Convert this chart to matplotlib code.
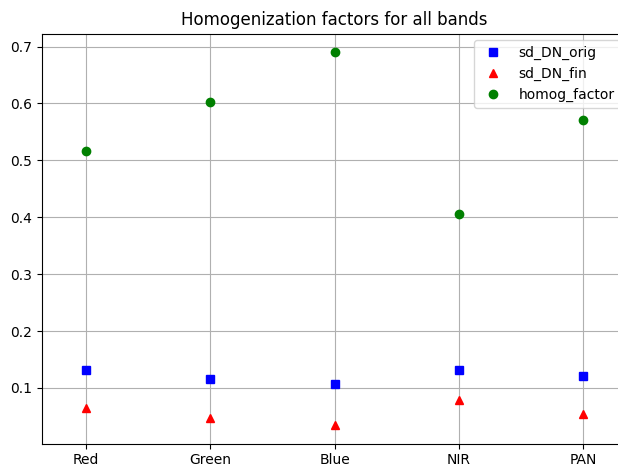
import matplotlib
matplotlib.use("Agg")
import matplotlib.pyplot as plt

bands = ["Red", "Green", "Blue", "NIR", "PAN"]
sd_DN_orig = [0.132, 0.116, 0.107, 0.132, 0.121]
sd_DN_fin = [0.065, 0.047, 0.035, 0.079, 0.054]
homog_factor = [0.517, 0.603, 0.690, 0.406, 0.571]

fig, ax = plt.subplots(figsize=(6.18, 4.66), dpi=100)
ax.plot(bands, sd_DN_orig, "bs", label="sd_DN_orig")
ax.plot(bands, sd_DN_fin, "r^", label="sd_DN_fin")
ax.plot(bands, homog_factor, "go", label="homog_factor")
ax.set_xlim(-0.35, len(bands) - 1 + 0.35)
ax.set_title("Homogenization factors for all bands")
ax.grid(True)
ax.legend(loc="upper right")
fig.subplots_adjust(left=0.068, right=1.0146, bottom=0.048, top=0.928)
fig.savefig("out.png", dpi=100)
